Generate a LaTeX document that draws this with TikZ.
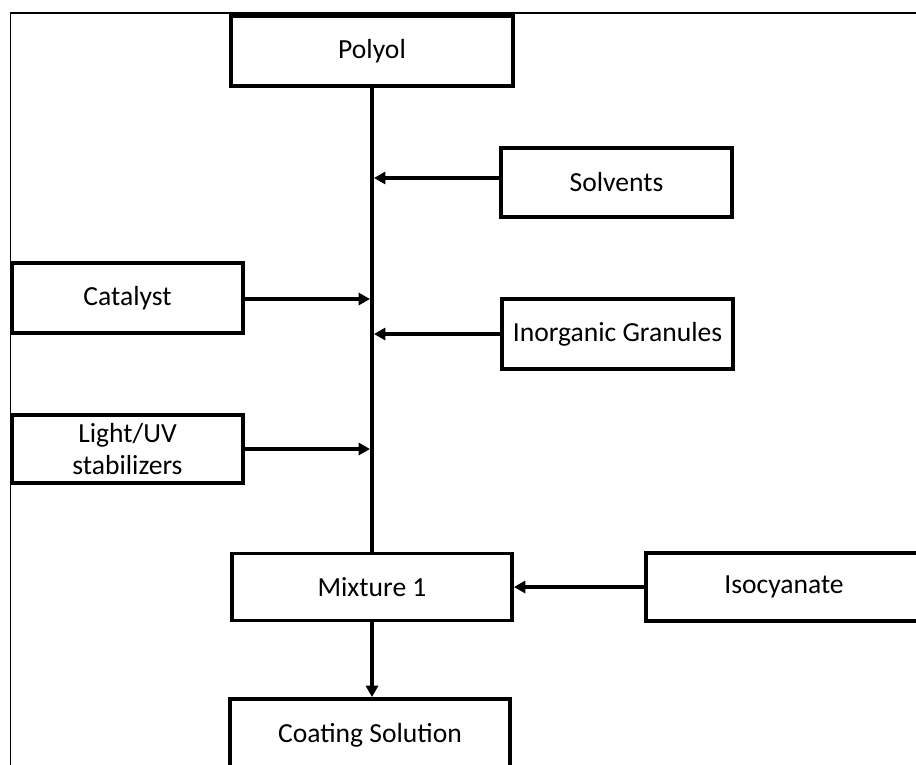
\documentclass[tikz,border=0pt]{standalone}
\usepackage{fontspec}
\setmainfont{Carlito}
\usetikzlibrary{arrows.meta}
\definecolor{ink}{HTML}{000000}
\newcommand{\drawStep}[6]{
	\node[stepbox, minimum width=#4*0.75pt, minimum height=#5*0.75pt] (#1) at (#2,#3) {#6};
}

\begin{document}
\begin{tikzpicture}[x=0.75pt, y=-0.75pt, line width=2.9pt,
	stepbox/.style={draw=ink, rectangle, inner sep=0pt, align=center,
		font=\fontsize{20.7}{24.5}\selectfont},
	feed/.style={draw=ink, line width=2.5pt, -{Triangle[length=8.5pt, width=9pt]}}]

	\useasboundingbox (0,0) rectangle (916,764);
	\clip (0,0) rectangle (916,764);

	% frame of the slide, only left and top are inside the crop
	\draw[ink, line width=1pt] (10.5,13) rectangle (940,790);

	% main line
	\drawStep{polyol}    {372  }{ 51  }{282}{70.5}{Polyol}
	\drawStep{mixture}   {372  }{587  }{280}{67  }{Mixture 1}
	\drawStep{coating}   {370  }{735  }{280}{72  }{Coating Solution}

	% additives
	\drawStep{solvents}  {616.5}{182.5}{231}{69  }{Solvents}
	\drawStep{inorganic} {617.5}{334  }{231}{70  }{Inorganic Granules}
	\drawStep{catalyst}  {127.5}{298  }{231}{70  }{Catalyst}
	\drawStep{light}     {127.5}{449  }{231}{68  }{Light/UV\\stabilizers}
	\drawStep{iso}       {784  }{587  }{276}{68  }{Isocyanate}

	\coordinate (jsol) at (374,178);
	\coordinate (jcat) at (370,299);
	\coordinate (jino) at (374,334);
	\coordinate (jlig) at (370,449);

	\draw[ink, line width=2.7pt] (polyol.south) -- (mixture.north);

	\draw[feed] (solvents.west |- jsol) -- (jsol);
	\draw[feed] (catalyst.east |- jcat) -- (jcat);
	\draw[feed] (inorganic.west |- jino) -- (jino);
	\draw[feed] (light.east |- jlig) -- (jlig);
	\draw[feed] (iso.west) -- (iso.west -| mixture.east);
	\draw[feed] (mixture.south) -- (mixture.south |- coating.north);

\end{tikzpicture}
\end{document}
